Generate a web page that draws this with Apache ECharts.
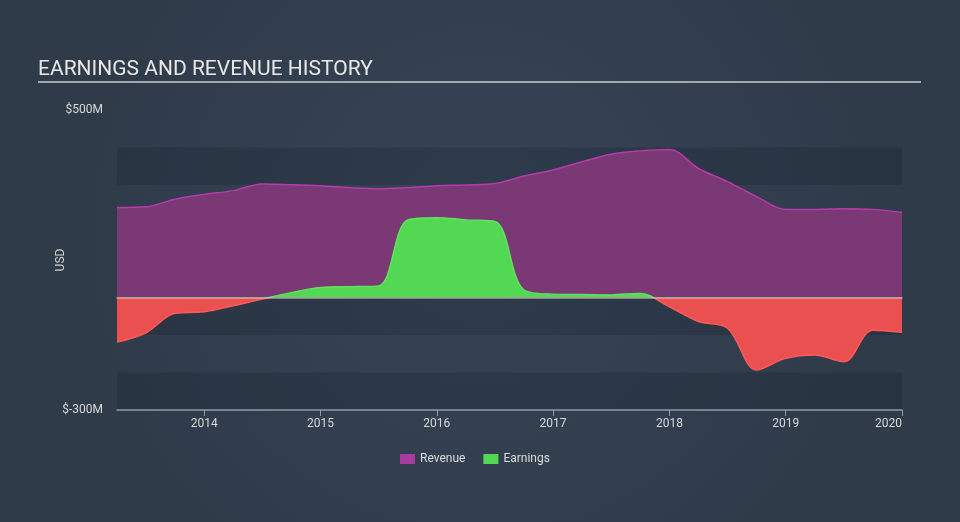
<!DOCTYPE html>
<html>
<head>
<meta charset="utf-8">
<script src="https://cdn.jsdelivr.net/npm/echarts@6/dist/echarts.min.js"></script>
<style>
  html, body { margin: 0; padding: 0; background: #333f4f; }
  #chart { width: 960px; height: 522px; }
</style>
</head>
<body>
<div id="chart"></div>
<script>
// Quarter-end dates as fractional years
var quarters = [2013.25, 2013.5, 2013.75, 2014.0, 2014.25, 2014.5, 2014.75, 2015.0,
                2015.25, 2015.5, 2015.75, 2016.0, 2016.25, 2016.5, 2016.75, 2017.0,
                2017.25, 2017.5, 2017.75, 2018.0, 2018.25, 2018.5, 2018.75, 2019.0,
                2019.25, 2019.5, 2019.75, 2020.0];
// Values in $M
var revenue = [240, 242, 262, 275, 285, 303, 301, 298, 293, 290, 293, 298, 300, 304,
               324, 340, 362, 382, 391, 395, 344, 309, 269, 235, 235, 237, 235, 227];
var earnings = [-119, -94, -42, -38, -22, -4, 13, 27, 29, 31, 207, 213, 207, 203,
                20, 9, 8, 7, 11, -25, -64, -82, -193, -162, -153, -171, -87, -93];
var yearTicks = [2014, 2015, 2016, 2017, 2018, 2019, 2020];
var yTickLabels = [-300, 500];

var GREEN = '#52d852', GREEN_LINE = '#5ee45e';
var RED = '#ea5050', RED_LINE = '#ff5a5a';

function pairs(xs, ys) { return xs.map(function (x, i) { return [x, ys[i]]; }); }
function splitGradient(zeroFrac, top, bottom) {
  return {
    type: 'linear', x: 0, y: 0, x2: 0, y2: 522, global: true,
    colorStops: [
      { offset: 0, color: top }, { offset: zeroFrac, color: top },
      { offset: zeroFrac, color: bottom }, { offset: 1, color: bottom }
    ]
  };
}

var chart = echarts.init(document.getElementById('chart'), null, { renderer: 'canvas' });
var option = {
  backgroundColor: {
    type: 'radial', x: 0.5, y: 0.45, r: 0.75,
    colorStops: [{ offset: 0, color: '#364556' }, { offset: 1, color: '#303b4a' }]
  },
  animation: false,
  title: {
    text: 'EARNINGS AND REVENUE HISTORY',
    left: 33, top: 54,
    textStyle: { color: '#e8e8e8', fontSize: 21, fontWeight: 'normal', fontFamily: 'Roboto' }
  },
  graphic: [{
    type: 'line', shape: { x1: 38, y1: 82, x2: 921, y2: 82 },
    style: { stroke: '#a3a8ae', lineWidth: 2 }, silent: true
  }],
  legend: {
    data: ['Revenue', 'Earnings'],
    left: 395, top: 448,
    itemWidth: 15, itemHeight: 10, itemGap: 18,
    icon: 'rect',
    textStyle: { color: '#dcdcdc', fontSize: 12, fontFamily: 'Roboto' }
  },
  grid: { left: 117, right: 58, top: 110, bottom: 112, containLabel: false },
  xAxis: [{
    type: 'value', min: 2013.25, max: 2020,
    splitLine: { show: false },
    axisLine: { show: true, onZero: false, lineStyle: { color: '#8e9aa8', width: 1.5 } },
    axisTick: { show: true, length: 6, customValues: yearTicks, lineStyle: { color: '#8e9aa8', width: 1 } },
    axisLabel: {
      customValues: yearTicks, color: '#d8d8d8', fontSize: 12, fontFamily: 'Roboto', margin: 8,
      alignMaxLabel: 'right',
      formatter: function (v) { return String(Math.round(v)); }
    }
  }, {
    type: 'value', min: 2013.25, max: 2020, position: 'bottom', z: 10,
    splitLine: { show: false },
    axisLine: { show: true, onZero: true, lineStyle: { color: 'rgba(235,205,205,0.65)', width: 1.5 } },
    axisTick: { show: false },
    axisLabel: { show: false }
  }],
  yAxis: {
    type: 'value', min: -300, max: 500, interval: 100,
    name: 'USD', nameLocation: 'middle', nameGap: 50, nameRotate: 90, nameMoveOverlap: false,
    nameTextStyle: { color: '#d0d0d0', fontSize: 12, fontFamily: 'Roboto' },
    axisLine: { show: false }, axisTick: { show: false },
    splitLine: { show: false },
    splitArea: { show: true, areaStyle: { color: ['rgba(20,28,40,0.22)', 'rgba(0,0,0,0)'] } },
    axisLabel: {
      customValues: yTickLabels, color: '#d8d8d8', fontSize: 12, fontFamily: 'Roboto', margin: 14,
      formatter: function (v) { return '$' + v + 'M'; }
    }
  },
  series: [{
    name: 'Revenue', type: 'line', data: pairs(quarters, revenue),
    smooth: 0.35, symbol: 'none',
    itemStyle: { color: '#a93a9f' },
    lineStyle: { color: '#b63bab', width: 1.5 },
    areaStyle: { color: '#7a3974', opacity: 1 },
    z: 2
  }, {
    name: 'Earnings', type: 'line', data: pairs(quarters, earnings),
    smooth: 0.35, symbol: 'none',
    itemStyle: { color: GREEN },
    lineStyle: { width: 1.5, color: GREEN_LINE },
    areaStyle: { opacity: 1, color: GREEN },
    z: 3
  }]
};
chart.setOption(option);

// Colour earnings green above zero and red below, split at the zero pixel of the y axis
var zeroY = chart.convertToPixel({ yAxisIndex: 0 }, 0);
var frac = zeroY / 522;
chart.setOption({
  series: [{}, {
    lineStyle: { color: splitGradient(frac, GREEN_LINE, RED_LINE) },
    areaStyle: { color: splitGradient(frac, GREEN, RED) }
  }]
});
</script>
</body>
</html>
